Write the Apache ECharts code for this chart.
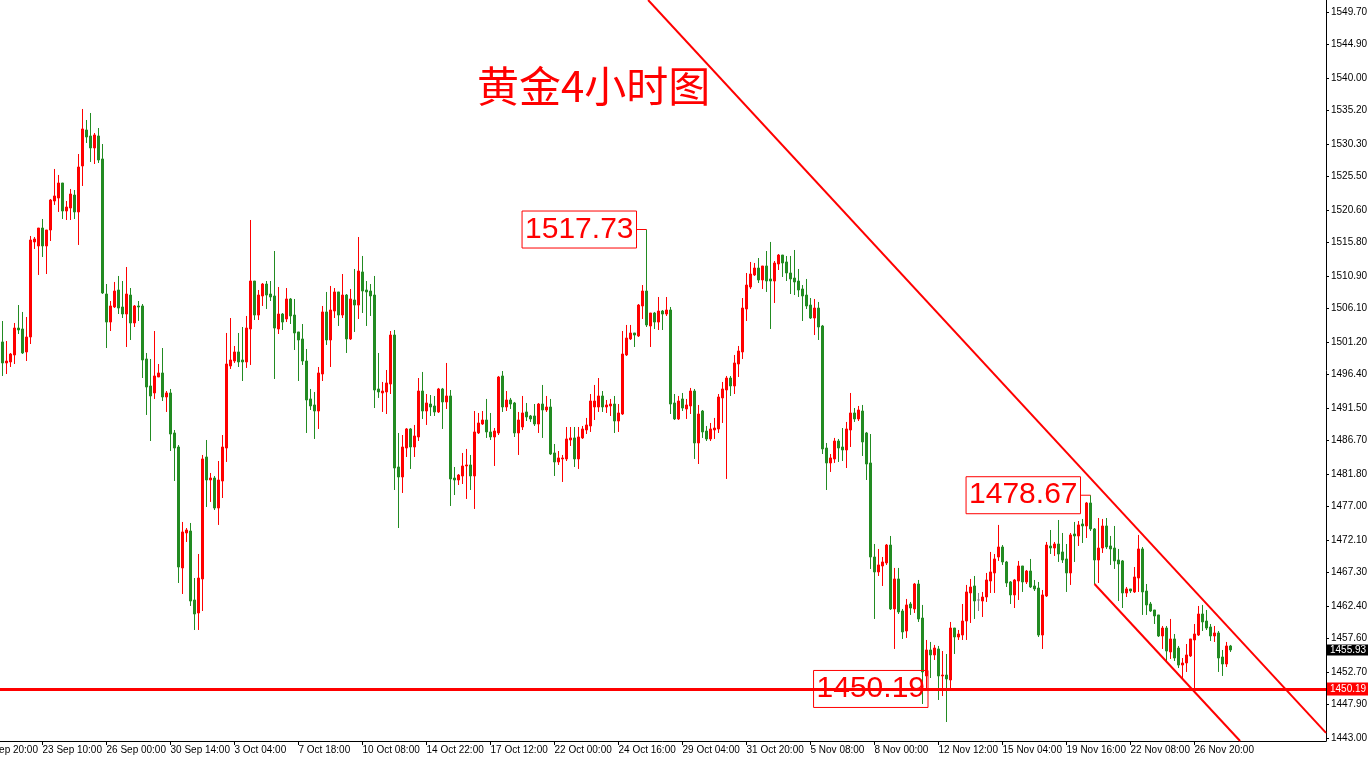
<!DOCTYPE html>
<html><head><meta charset="utf-8">
<script src="https://cdn.jsdelivr.net/npm/echarts@6/dist/echarts.min.js"></script>
<style>html,body{margin:0;padding:0;background:#fff}#c{width:1368px;height:758px}</style>
</head><body><div id="c"></div>
<script>
// time labels on the x axis and the bar index each one sits on
const tickLabels = ['19 Sep 20:00','23 Sep 10:00','26 Sep 00:00','30 Sep 14:00','3 Oct 04:00','7 Oct 18:00','10 Oct 08:00','14 Oct 22:00','17 Oct 12:00','22 Oct 00:00','24 Oct 16:00','29 Oct 04:00','31 Oct 20:00','5 Nov 08:00','8 Nov 00:00','12 Nov 12:00','15 Nov 04:00','19 Nov 16:00','22 Nov 08:00','26 Nov 20:00'];
const tickBars = [-6,10,26,42,58,74,90,106,122,138,154,170,186,202,218,234,250,266,282,298];
// price tick labels on the right axis
const priceTicks = [1549.70,1544.90,1540.00,1535.20,1530.30,1525.50,1520.60,1515.80,1510.90,1506.10,1501.20,1496.40,1491.50,1486.70,1481.80,1477.00,1472.10,1467.30,1462.40,1457.60,1452.70,1447.90,1443.00];
// 4H candles: [open, close, low, high]
const candles = [
[1501.20,1498.11,1496.20,1504.28],[1498.11,1498.40,1496.49,1501.34],[1498.26,1499.43,1497.52,1499.58],[1499.29,1503.25,1497.96,1503.99],[1503.25,1502.96,1502.37,1506.63],
[1503.11,1499.58,1499.43,1505.61],[1499.73,1501.93,1498.40,1504.87],[1501.93,1516.19,1500.90,1516.78],[1515.90,1516.34,1514.87,1516.63],[1515.31,1517.95,1511.05,1517.95],
[1517.95,1515.31,1513.69,1519.28],[1515.31,1517.66,1511.19,1517.66],[1517.66,1522.07,1516.04,1522.22],[1521.92,1522.66,1521.34,1526.63],[1522.36,1524.57,1520.31,1525.75],
[1524.57,1520.45,1519.28,1524.57],[1520.45,1521.04,1519.13,1521.92],[1520.89,1522.95,1519.13,1523.69],[1522.80,1520.31,1519.28,1523.54],[1520.31,1526.92,1515.46,1528.83],
[1527.07,1532.51,1524.13,1535.45],[1532.36,1531.33,1530.45,1533.83],[1531.48,1529.72,1527.66,1534.86],[1529.72,1531.63,1527.36,1531.92],[1531.48,1527.95,1527.51,1532.65],
[1528.10,1508.40,1508.25,1530.30],[1508.25,1504.13,1500.31,1509.72],[1504.13,1506.49,1502.81,1507.22],[1506.34,1508.69,1506.19,1510.02],[1508.84,1506.19,1505.31,1510.90],
[1506.34,1505.31,1504.72,1510.16],[1505.31,1508.25,1500.46,1512.22],[1508.10,1503.99,1501.49,1509.13],[1503.99,1506.49,1503.40,1506.63],[1506.49,1506.34,1504.28,1507.22],
[1506.49,1498.55,1495.90,1506.78],[1498.70,1494.58,1490.47,1499.58],[1494.73,1493.26,1486.64,1498.70],[1493.70,1496.20,1492.82,1502.81],[1496.05,1496.64,1496.05,1497.96],
[1496.64,1493.11,1492.52,1500.31],[1493.11,1493.70,1490.91,1493.99],[1493.70,1487.67,1485.17,1494.29],[1487.82,1485.61,1480.76,1488.26],[1485.76,1468.12,1465.77,1486.05],
[1467.98,1473.27,1464.15,1474.74],[1473.12,1473.56,1471.80,1473.85],[1473.41,1463.12,1462.39,1474.59],[1463.27,1461.21,1458.86,1466.50],[1461.36,1466.50,1458.86,1470.03],
[1466.36,1484.00,1461.65,1484.59],[1484.29,1480.91,1476.94,1486.79],[1480.91,1481.20,1477.68,1481.94],[1481.20,1476.79,1476.50,1481.50],[1476.79,1480.91,1474.30,1483.70],
[1480.76,1485.76,1478.26,1487.52],[1485.61,1497.96,1483.56,1502.52],[1497.67,1498.55,1497.23,1504.72],[1498.40,1499.73,1498.11,1500.61],[1499.73,1498.26,1497.52,1502.52],
[1498.55,1498.26,1495.46,1503.40],[1498.26,1503.25,1497.38,1505.02],[1503.11,1510.16,1497.82,1519.13],[1510.16,1505.16,1504.43,1510.16],[1505.16,1508.10,1504.43,1508.84],
[1507.96,1509.72,1506.49,1509.87],[1509.72,1508.10,1506.05,1510.16],[1508.25,1507.81,1507.22,1510.16],[1507.96,1503.25,1495.76,1514.57],[1503.11,1505.31,1502.37,1509.28],
[1505.31,1504.13,1502.96,1505.46],[1504.58,1507.52,1504.13,1509.13],[1507.52,1505.02,1503.84,1507.66],[1505.16,1502.52,1500.02,1507.52],[1502.67,1501.49,1495.46,1502.67],
[1501.64,1498.40,1497.82,1503.84],[1498.40,1492.67,1487.82,1500.17],[1492.82,1491.79,1491.20,1494.29],[1491.94,1491.05,1486.94,1493.85],[1491.05,1496.64,1488.41,1497.52],
[1496.49,1505.61,1495.46,1506.49],[1505.61,1501.49,1500.76,1508.55],[1501.49,1505.90,1497.52,1509.43],[1505.75,1508.55,1504.72,1509.13],[1508.55,1505.16,1503.55,1508.55],
[1505.16,1508.10,1504.72,1511.19],[1508.10,1501.64,1499.58,1508.25],[1501.64,1507.52,1501.49,1508.99],[1507.37,1506.63,1502.67,1511.93],[1506.63,1511.63,1504.58,1516.63],
[1511.49,1508.69,1505.46,1513.84],[1508.84,1508.55,1503.55,1510.16],[1508.69,1507.96,1505.02,1509.72],[1508.10,1494.14,1491.49,1510.90],[1494.29,1493.85,1492.97,1499.58],
[1493.70,1493.99,1490.91,1495.32],[1493.85,1495.17,1490.61,1497.08],[1495.02,1502.22,1493.55,1502.81],[1502.22,1482.67,1479.44,1502.96],[1482.82,1481.35,1473.85,1487.82],
[1481.35,1485.76,1479.00,1487.52],[1485.61,1488.41,1484.29,1488.55],[1488.41,1485.76,1482.53,1488.55],[1485.76,1487.38,1484.29,1489.00],[1487.23,1493.99,1486.64,1495.90],
[1493.99,1491.05,1489.88,1496.79],[1491.05,1492.23,1489.00,1493.55],[1492.08,1491.64,1490.32,1493.40],[1491.79,1490.91,1490.32,1493.26],[1490.91,1494.29,1490.76,1494.44],
[1494.29,1492.38,1488.41,1494.44],[1492.38,1493.26,1491.35,1498.11],[1493.26,1481.06,1477.09,1494.14],[1481.20,1480.91,1478.70,1482.82],[1480.91,1481.64,1480.17,1481.79],
[1481.50,1482.97,1480.32,1484.88],[1482.97,1483.12,1478.12,1485.47],[1483.12,1481.50,1479.44,1484.59],[1481.50,1487.97,1476.65,1491.05],[1487.82,1489.29,1487.67,1490.76],
[1489.14,1489.73,1489.00,1491.05],[1489.73,1487.97,1487.09,1492.82],[1487.97,1487.23,1486.79,1490.76],[1487.23,1488.11,1482.97,1488.55],[1487.82,1496.05,1487.52,1496.20],
[1496.20,1491.64,1490.91,1496.93],[1491.64,1492.67,1491.05,1493.99],[1492.67,1492.08,1491.35,1492.97],[1492.23,1487.82,1487.23,1492.38],[1487.82,1489.73,1484.59,1490.91],
[1488.70,1490.76,1488.26,1493.26],[1490.91,1490.17,1489.58,1492.23],[1490.32,1489.88,1489.44,1490.47],[1490.32,1489.14,1488.85,1492.08],[1489.14,1492.08,1487.82,1492.23],
[1492.08,1491.20,1487.09,1494.88],[1491.20,1491.64,1490.91,1493.26],[1491.64,1484.73,1484.59,1492.82],[1484.88,1483.56,1481.50,1486.20],[1483.56,1484.15,1483.12,1485.17],
[1484.00,1484.15,1480.62,1484.59],[1484.00,1486.94,1483.70,1488.70],[1486.79,1487.09,1485.91,1488.70],[1487.09,1484.00,1482.82,1488.70],[1484.00,1487.23,1482.53,1488.70],
[1487.09,1488.41,1486.94,1488.85],[1488.26,1489.00,1487.67,1490.03],[1488.85,1492.52,1487.97,1493.55],[1491.64,1492.52,1489.73,1494.88],[1491.64,1493.26,1490.91,1495.90],
[1493.26,1491.64,1490.91,1493.99],[1491.64,1491.94,1490.76,1492.67],[1491.79,1492.08,1490.32,1492.82],[1492.08,1489.58,1487.82,1493.26],[1489.58,1490.76,1487.97,1492.08],
[1490.61,1499.43,1490.47,1502.81],[1499.29,1501.78,1499.14,1503.70],[1501.64,1502.52,1501.49,1503.70],[1502.52,1502.22,1500.46,1502.52],[1502.08,1506.63,1501.93,1506.78],
[1506.49,1508.69,1504.58,1509.57],[1508.69,1503.70,1503.40,1517.73],[1503.55,1505.46,1500.46,1505.46],[1505.46,1504.13,1503.11,1505.61],[1504.13,1505.75,1502.96,1507.81],
[1505.75,1505.31,1502.96,1505.90],[1505.31,1505.90,1505.02,1507.81],[1505.90,1492.08,1490.61,1506.34],[1492.23,1489.88,1489.73,1493.55],[1489.88,1492.52,1489.73,1493.26],
[1492.82,1491.49,1491.05,1493.70],[1491.35,1491.94,1489.88,1492.82],[1491.79,1493.99,1490.61,1494.44],[1493.99,1486.35,1484.00,1494.29],[1486.35,1490.61,1483.26,1491.94],
[1491.05,1487.97,1487.09,1491.20],[1488.11,1486.94,1486.64,1488.85],[1486.94,1488.41,1486.64,1489.29],[1488.26,1488.55,1486.94,1490.03],[1488.41,1493.11,1487.82,1493.55],
[1492.97,1494.29,1489.29,1495.32],[1494.14,1495.90,1481.06,1496.20],[1495.90,1494.73,1493.26,1496.20],[1494.73,1498.11,1493.55,1499.29],[1497.96,1499.87,1496.05,1500.61],
[1499.73,1506.19,1498.70,1507.66],[1506.05,1509.57,1504.28,1511.34],[1509.28,1511.19,1508.99,1512.96],[1511.05,1512.07,1510.90,1512.81],[1512.07,1510.31,1509.87,1513.54],
[1510.31,1512.37,1508.99,1512.37],[1512.37,1510.16,1508.55,1514.57],[1510.46,1510.16,1503.11,1515.90],[1510.16,1512.81,1506.93,1513.10],[1512.66,1513.98,1511.78,1514.13],
[1513.98,1512.81,1510.75,1513.98],[1512.96,1511.34,1510.16,1513.84],[1511.34,1510.46,1508.25,1513.84],[1510.60,1510.02,1508.10,1514.72],[1510.16,1508.84,1507.81,1511.93],
[1508.99,1507.96,1504.28,1509.57],[1508.10,1506.49,1506.05,1510.46],[1506.63,1504.72,1504.58,1507.66],[1504.72,1506.19,1502.22,1507.52],[1506.19,1503.40,1501.49,1507.08],
[1503.55,1485.47,1484.73,1503.70],[1485.61,1483.41,1479.44,1486.35],[1483.41,1484.15,1482.09,1484.73],[1484.00,1486.64,1483.41,1487.09],[1486.64,1485.61,1483.56,1486.94],
[1485.76,1485.32,1483.70,1488.55],[1485.32,1488.41,1482.67,1489.44],[1488.26,1490.76,1485.76,1493.70],[1490.76,1489.88,1489.44,1491.49],[1489.88,1491.20,1489.58,1491.79],
[1491.05,1486.50,1484.44,1491.94],[1487.82,1483.26,1480.91,1487.97],[1483.41,1469.59,1467.83,1487.67],[1469.59,1467.39,1460.48,1471.50],[1467.39,1468.42,1466.80,1470.77],
[1468.27,1468.86,1465.33,1469.59],[1468.71,1471.35,1468.42,1471.50],[1471.35,1461.95,1461.80,1472.68],[1461.95,1466.36,1456.07,1467.98],[1466.36,1461.51,1461.21,1467.98],
[1461.65,1458.57,1457.54,1461.95],[1458.71,1462.54,1457.69,1463.42],[1462.68,1462.09,1461.07,1462.98],[1461.95,1465.62,1461.36,1465.77],[1465.62,1460.48,1460.04,1466.21],
[1460.62,1452.69,1447.98,1462.54],[1452.10,1455.92,1450.19,1457.39],[1455.92,1455.19,1451.80,1457.10],[1455.19,1456.21,1454.45,1456.66],[1456.07,1452.10,1448.57,1456.51],
[1452.10,1452.24,1449.15,1455.77],[1452.24,1451.66,1445.33,1455.33],[1451.51,1459.15,1450.19,1460.04],[1459.15,1457.83,1455.33,1459.15],[1457.83,1458.27,1457.39,1458.86],
[1458.12,1460.18,1457.39,1462.68],[1460.18,1464.45,1457.39,1465.48],[1464.30,1465.18,1459.89,1466.36],[1465.33,1463.12,1460.48,1466.80],[1463.27,1463.27,1461.65,1464.30],
[1463.12,1463.71,1460.77,1464.45],[1463.71,1466.21,1462.98,1467.24],[1466.06,1467.39,1464.30,1470.33],[1467.24,1469.30,1464.30,1470.03],[1469.59,1471.06,1469.01,1474.30],
[1471.06,1468.86,1468.42,1471.35],[1468.86,1465.77,1465.18,1469.01],[1465.92,1464.01,1462.68,1466.06],[1464.01,1466.21,1462.09,1466.36],[1466.06,1468.27,1463.27,1469.01],
[1468.27,1465.92,1464.45,1468.27],[1465.92,1467.53,1465.62,1467.68],[1467.53,1465.18,1465.03,1469.30],[1465.33,1464.89,1464.59,1466.21],[1465.03,1458.12,1457.83,1465.92],
[1458.12,1464.01,1456.07,1464.74],[1463.86,1471.35,1463.71,1471.80],[1471.21,1470.91,1470.03,1473.56],[1470.91,1471.50,1469.74,1471.80],[1471.50,1470.03,1468.86,1475.03],
[1470.33,1469.15,1468.71,1473.12],[1469.30,1467.24,1464.45,1471.50],[1467.24,1472.83,1465.48,1473.12],[1472.97,1472.68,1468.86,1474.74],[1472.68,1474.30,1471.21,1474.88],
[1474.44,1474.15,1471.65,1475.18],[1474.15,1477.53,1472.38,1477.68],[1477.53,1473.71,1473.41,1478.67],[1473.71,1469.15,1465.62,1473.85],[1469.15,1470.91,1465.77,1475.32],
[1470.91,1474.15,1470.18,1475.18],[1474.15,1471.06,1470.77,1475.32],[1471.21,1470.77,1468.42,1472.68],[1470.91,1469.01,1467.83,1474.15],[1469.15,1468.56,1463.12,1470.77],
[1469.01,1464.30,1462.09,1469.15],[1464.30,1464.89,1463.71,1465.18],[1464.89,1464.59,1464.30,1464.89],[1464.45,1466.65,1464.30,1468.12],[1466.50,1470.77,1464.45,1472.83],
[1470.77,1464.45,1461.07,1471.06],[1464.59,1462.54,1461.07,1465.62],[1462.68,1461.65,1461.51,1462.98],[1461.80,1460.92,1459.74,1461.80],[1461.07,1457.98,1457.83,1461.07],
[1457.98,1459.15,1456.07,1459.45],[1459.15,1455.77,1454.30,1459.45],[1455.63,1457.54,1454.60,1460.48],[1457.54,1454.74,1454.30,1458.27],[1456.21,1453.71,1453.27,1456.51],
[1453.71,1454.01,1451.80,1454.74],[1454.01,1455.19,1452.69,1456.80],[1455.04,1457.54,1454.89,1457.54],[1457.39,1458.27,1450.10,1459.74],[1458.12,1461.21,1457.98,1462.39],
[1461.21,1460.04,1458.71,1462.54],[1460.18,1459.15,1458.86,1461.80],[1459.30,1457.98,1457.24,1459.74],[1457.98,1458.42,1457.10,1459.45],[1458.42,1454.74,1452.69,1458.71],
[1454.89,1453.86,1452.10,1455.92],[1453.86,1456.51,1453.42,1457.10],[1456.51,1455.93,1455.63,1456.66]
];
// drawn objects: trend lines [barIndex, price], horizontal level, last price, price labels
const trendA = [[161.4, 1551.47], [330.875, 1443.74]];
const trendB = [[273, 1465.62], [309.4, 1442.54]];
const levelPrice = 1450.19;
const lastPrice = 1455.93;
const priceNotes = [{bar:161, price:1517.73}, {bar:272, price:1478.67}, {bar:231, price:1450.19}];

const RED = '#ff0000', GREEN = '#228b22';
const chart = echarts.init(document.getElementById('c'));
const candleData = candles.map((c, i) => [i, c[0], c[1], c[2], c[3]]);
const axisFont = {fontSize: 10, color: '#000', fontFamily: 'Liberation Sans'};
chart.setOption({
  animation: false,
  backgroundColor: '#fff',
  title: {text: '黄金4小时图', left: 472, top: 60,
    textStyle: {color: RED, fontSize: 42, fontWeight: 'normal', fontFamily: 'Noto Sans CJK SC'}},
  grid: {left: -26, right: 42, top: 0, bottom: 17, containLabel: false, outerBoundsMode: 'none'},
  xAxis: {type: 'value', min: -7.125, max: 330.875,
    axisLine: {show: true, onZero: false, lineStyle: {color: '#000', width: 1}},
    axisTick: {show: true, customValues: tickBars, length: 4, lineStyle: {color: '#000'}},
    axisLabel: Object.assign({customValues: tickBars, align: 'left', margin: 4, hideOverlap: false,
      formatter: v => { const i = tickBars.indexOf(Math.round(v)); return i >= 0 ? tickLabels[i] : ''; }}, axisFont),
    splitLine: {show: false}},
  yAxis: {type: 'value', position: 'right', min: 1442.54, max: 1551.47,
    axisLine: {show: true, onZero: false, lineStyle: {color: '#000', width: 1}},
    axisTick: {show: true, customValues: priceTicks, length: 3, lineStyle: {color: '#000'}},
    axisLabel: Object.assign({customValues: priceTicks, margin: 5, formatter: v => v.toFixed(2)}, axisFont),
    splitLine: {show: false}},
  series: [
    {type: 'candlestick', data: candleData, barWidth: 2, silent: true,
      itemStyle: {color: RED, color0: GREEN, borderColor: RED, borderColor0: GREEN, borderColorDoji: '#808080', borderWidth: 1},
      markLine: {symbol: ['none', 'none'], silent: true, animation: false,
        data: [
          {yAxis: levelPrice, lineStyle: {color: RED, width: 3, type: 'solid'},
            label: {show: true, position: 'end', distance: 1, formatter: p => p.value.toFixed(2),
              color: '#fff', backgroundColor: RED, padding: [2, 3, 1, 3], fontSize: 10, fontFamily: 'Liberation Sans'}},
          {yAxis: lastPrice, lineStyle: {color: 'rgba(0,0,0,0)', width: 1, type: 'solid'},
            label: {show: true, position: 'end', distance: 1, formatter: p => p.value.toFixed(2), opacity: 1,
              color: '#fff', backgroundColor: '#000', padding: [1, 3, 0, 3], fontSize: 10, fontFamily: 'Liberation Sans'}}
        ]},
      markPoint: {silent: true, animation: false, symbol: 'rect', symbolSize: [10, 1], symbolOffset: [-5, 0],
        itemStyle: {color: RED},
        label: {show: true, position: 'left', distance: 0, formatter: '{b}', color: RED, fontSize: 30, lineHeight: 30,
          fontFamily: 'Liberation Sans', borderColor: RED, borderWidth: 1, padding: [4, 3, 3, 3]},
        data: priceNotes.map((n, i) => Object.assign({name: n.price.toFixed(2), coord: [n.bar, n.price], value: n.price},
          i === 2 ? {symbolSize: [1, 1], symbolOffset: [2, 0]} : {}))}
    },
    {type: 'line', data: trendA, symbol: 'none', silent: true, z: 4, lineStyle: {color: RED, width: 2}},
    {type: 'line', data: trendB, symbol: 'none', silent: true, z: 4, lineStyle: {color: RED, width: 2}}
  ]
});
</script></body></html>
